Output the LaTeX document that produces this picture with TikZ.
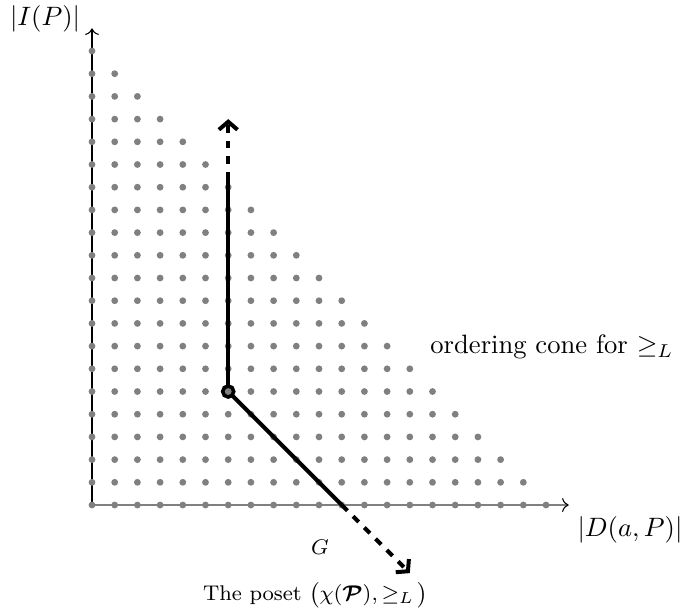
\documentclass[tikz,border=0pt]{standalone}
\usepackage{amsmath,amssymb}
\usetikzlibrary{arrows.meta}
\tikzset{
  latticedot/.style={circle,fill=gray,inner sep=0pt,minimum size=0.09cm},
  axisline/.style={-{To[color=black]},line width=0.4pt},
  coneline/.style={line width=1.5pt},
  conedash/.style={line width=1.5pt,dashed,-{Straight Barb[length=3pt,width=7pt,line width=1.5pt]}},
  lbl/.style={inner sep=0pt}
}
\begin{document}
\begin{tikzpicture}[x=0.3cm,y=0.3cm]
\useasboundingbox (-4.053,-4.846) rectangle (25.991,22.247);
\coordinate (O) at (0,0);
\coordinate (xend) at (21,0);
\coordinate (yend) at (0,21);
\draw[axisline,draw=gray] (O) -- (xend);
\draw[axisline,draw=black] (O) -- (yend);
\foreach \i in {0,...,20}{
  \foreach \j in {0,...,20}{
    \pgfmathtruncatemacro{\s}{\i+\j}
    \ifnum\s<21
      \node[latticedot] at (\i,\j) {};
    \fi
  }
}
\coordinate (apex) at (6,5);
\coordinate (vmid) at (6,14.3);
\coordinate (vend) at (6,17);
\coordinate (dmid) at (11,0);
\coordinate (dend) at (14,-3);
\draw[coneline] (apex) -- (vmid);
\draw[conedash] (vmid) -- (vend);
\draw[coneline] (apex) -- (dmid);
\draw[conedash] (dmid) -- (dend);
\draw[coneline] (apex) circle (0.07cm);
\node[latticedot] at (apex) {};
\node[lbl] (ylab) at (-2.07,21.41) {$|I(P)|$};
\node[lbl] (xlab) at (23.70,-1.10) {$|D(a,P)|$};
\node[lbl] (cone) at (20.26,6.96) {ordering cone for $\geq_L$};
\node[lbl,font=\footnotesize] (G) at (10.04,-1.85) {$G$};
\node[lbl,font=\footnotesize] (poset) at (9.85,-3.96) {The poset $\bigl(\chi(\boldsymbol{\mathcal{P}}),\geq_L\,\bigr)$};
\end{tikzpicture}
\end{document}
